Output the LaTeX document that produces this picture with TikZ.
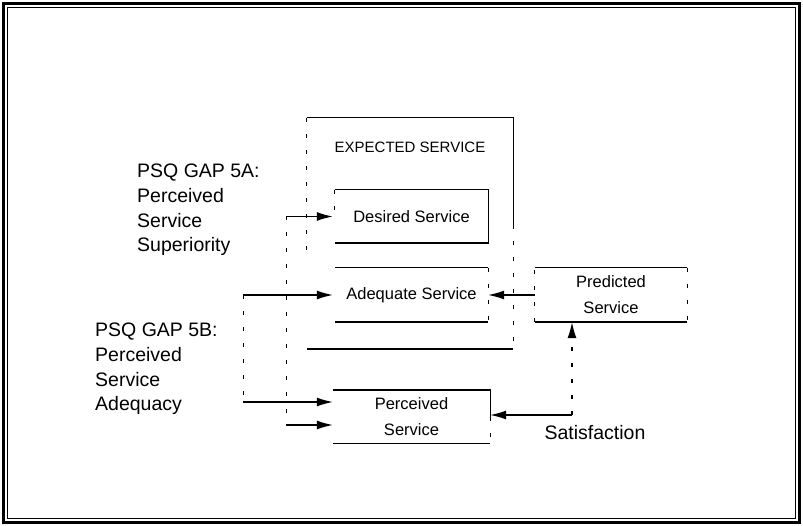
\documentclass[tikz,border=0pt]{standalone}
\usepackage{fontspec}
\setmainfont{Liberation Sans}
\usetikzlibrary{arrows.meta}

\begin{document}
\begin{tikzpicture}[x=1pt, y=-1pt,
        boxlabel/.style={inner sep=0pt, align=center, font=\fontsize{16.5}{26}\selectfont},
        gaplabel/.style={inner sep=0pt, anchor=west, align=left, font=\fontsize{19.5}{24.8}\selectfont},
        edge/.style={line width=1.4pt},
        broken/.style={line width=1pt, dash pattern=on 4pt off 12pt},
        arr/.style={line width=1.3pt, -{Latex[length=16pt, width=9pt]}}]
    \useasboundingbox (0,0) rectangle (803,526);
    % frame
    \draw[line width=3pt] (3.5,3.5) rectangle (799.5,522.5);
    \draw[line width=1.2pt] (7.5,7.5) rectangle (795.5,518.5);

    % boxes
    \node[inner sep=0pt, minimum width=206pt, minimum height=231pt] at (410, 233.5) (exp) {};
    \node[boxlabel, font=\fontsize{15}{18}\selectfont] at (410, 147) (explabel) {EXPECTED SERVICE};
    \node[boxlabel, minimum width=153pt, minimum height=53pt] at (411.5, 216.5) (des) {Desired Service};
    \node[boxlabel, minimum width=153pt, minimum height=54pt] at (411.5, 295) (ade) {Adequate Service};
    \node[boxlabel, minimum width=157pt, minimum height=53pt] at (411.5, 416.5) (perc) {Perceived\\Service};
    \node[boxlabel, minimum width=152pt, minimum height=54pt] at (611, 295) (pred) {Predicted\\Service};

    \draw[edge] (exp.south west) -- (exp.south east);
    \draw[edge] (exp.north west) -- (exp.north east) -- ++(0,107);
    \draw[broken] (exp.north east) ++(0,107) -- (exp.south east);
    \draw[broken] (exp.north west) -- ++(0,132);
    \draw[edge] (des.north west) -- (des.north east) -- (des.south east) -- (des.south west);
    \draw[broken] (des.north west) -- ++(0,22);
    \draw[edge] (ade.north west) -- (ade.north east);
    \draw[edge] (ade.south west) -- (ade.south east);
    \draw[broken] (ade.north east) -- (ade.south east);
    \draw[edge] (perc.north west) -- (perc.north east) -- (perc.east);
    \draw[edge] (perc.south west) -- (perc.south east);
    \draw[broken] (perc.east) -- (perc.south east);
    \draw[edge] (pred.north west) -- (pred.north east);
    \draw[edge] (pred.south west) -- (pred.south east);
    \draw[broken] (pred.south west) -- (pred.north west);
    \draw[broken] (pred.north east) -- (pred.south east);

    % gap labels
    \node[gaplabel] at (137, 210) (gapa) {PSQ GAP 5A:\\Perceived\\Service\\Superiority};
    \node[gaplabel] at (95, 369) (gapb) {PSQ GAP 5B:\\Perceived\\Service\\Adequacy};
    \node[gaplabel, anchor=center] at (595, 433) (sat) {Satisfaction};

    % gap arrows
    \coordinate (a5top) at (286, 216.5);
    \coordinate (a5bot) at (286, 425);
    \coordinate (b5top) at (243, 295);
    \coordinate (b5bot) at (243, 402);
    \draw[broken] (a5top) -- (a5bot);
    \draw[broken] (b5top) -- (b5bot);
    \draw[arr, shorten >=2pt] (a5top) -- (des.west);
    \draw[arr, shorten >=2pt] (b5top) -- (ade.west);
    \draw[arr] (b5bot) -- (b5bot -| perc.west);
    \draw[arr] (a5bot) -- (a5bot -| perc.west);

    % satisfaction loop
    \coordinate (satc) at (572, 415);
    \draw[arr] (pred.west) -- (ade.east);
    \draw[arr] (satc) -- (satc -| perc.east);
    \draw[arr, dash pattern=on 4pt off 12pt] (satc) -- (satc |- pred.south);
\end{tikzpicture}
\end{document}
